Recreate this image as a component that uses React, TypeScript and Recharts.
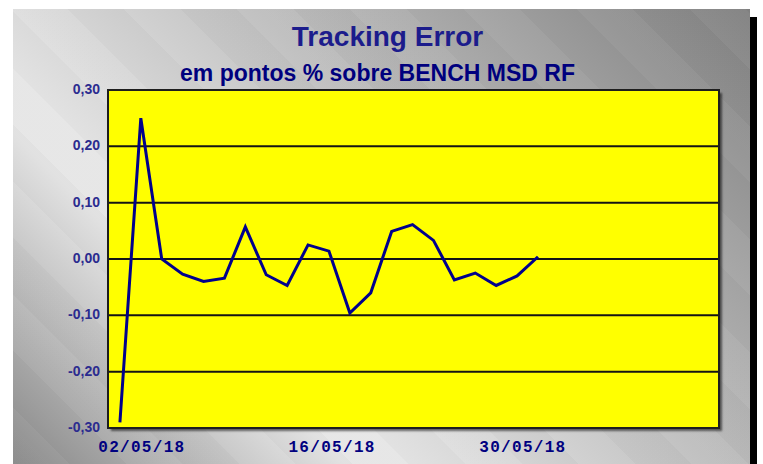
import { LineChart, Line, XAxis, YAxis, CartesianGrid, ReferenceArea } from "recharts";

// trading days of May 2018 and the tracking error (pontos %) for each one
const dates = [
  "02/05/18", "03/05/18", "04/05/18", "07/05/18", "08/05/18", "09/05/18", "10/05/18",
  "11/05/18", "14/05/18", "15/05/18", "16/05/18", "17/05/18", "18/05/18", "21/05/18",
  "22/05/18", "23/05/18", "24/05/18", "25/05/18", "28/05/18", "29/05/18", "30/05/18",
];
const trackingError = [
  -0.29, 0.25, 0.0, -0.027, -0.04, -0.034, 0.057,
  -0.028, -0.047, 0.025, 0.014, -0.096, -0.06, 0.049,
  0.061, 0.033, -0.037, -0.025, -0.047, -0.03, 0.004,
];

// axis labels as they sit under the plot (in point-index units)
const xTickPositions = [1.05, 10.15, 19.28];
const xTickLabels = ["02/05/18", "16/05/18", "30/05/18"];
const xDomain = [-0.57, 28.66];
const yTicks = [-0.3, -0.2, -0.1, 0, 0.1, 0.2, 0.3];

const data = dates.map((d, i) => ({ x: i, date: d, te: trackingError[i] }));

const fmtY = (v: number) => v.toFixed(2).replace(".", ",");
const fmtX = (v: number) => {
  const i = xTickPositions.indexOf(v);
  return i >= 0 ? xTickLabels[i] : "";
};

export default function App() {
  return (
    <div style={{ position: "absolute", left: 0, top: 0, width: 763, height: 464, background: "#fff", overflow: "hidden" }}>
      {/* grey panel */}
      <div
        style={{
          position: "absolute", left: 13, top: 9, width: 737, height: 455,
          background:
            "repeating-linear-gradient(45deg, rgba(255,255,255,0.025) 0px, rgba(255,255,255,0.025) 40px, rgba(0,0,0,0.02) 40px, rgba(0,0,0,0.02) 80px), linear-gradient(45deg, #8a8a8a 0%, #e6e6e6 28%, #e6e6e6 33%, #828282 100%)",
        }}
      />
      {/* black drop shadow on the right */}
      <div style={{ position: "absolute", left: 750, top: 17, width: 7, height: 447, background: "#000" }} />
      {/* shadow under the plot box */}
      <div style={{ position: "absolute", left: 108, top: 90, width: 611, height: 338, boxShadow: "3px 3px 2px rgba(0,0,0,0.55)" }} />

      <div style={{ position: "absolute", left: 0, top: 21, width: 775, textAlign: "center", fontFamily: "'Liberation Sans', Arial, sans-serif", fontWeight: 700, fontSize: 28, color: "#1c1c8c", lineHeight: "32px" }}>
        Tracking Error
      </div>
      <div style={{ position: "absolute", left: 0, top: 59, width: 755, textAlign: "center", fontFamily: "'Liberation Sans', Arial, sans-serif", fontWeight: 700, fontSize: 23, color: "#00007e", lineHeight: "28px" }}>
        em pontos % sobre BENCH MSD RF
      </div>

      <div style={{ position: "absolute", left: 0, top: 0 }}>
        <LineChart width={763} height={464} data={data} margin={{ top: 90, right: 44, left: 0, bottom: 0 }}>
          <CartesianGrid vertical={false} fill="#ffff00" stroke="#141414" strokeWidth={2} fillOpacity={1} />
          <XAxis
            type="number"
            dataKey="x"
            domain={xDomain}
            allowDataOverflow
            ticks={xTickPositions}
            tickFormatter={fmtX}
            interval={0}
            height={36}
            axisLine={false}
            tickLine={false}
            tickMargin={7}
            tick={{ fill: "#000080", fontFamily: "'Liberation Mono', monospace", fontWeight: 700, fontSize: 16, letterSpacing: 1.3 }}
          />
          <YAxis
            type="number"
            domain={[-0.3, 0.3]}
            ticks={yTicks}
            tickFormatter={fmtY}
            interval={0}
            width={108}
            axisLine={false}
            tickLine={false}
            tick={{ fill: "#2b2b8f", fontFamily: "'Liberation Sans', Arial, sans-serif", fontWeight: 700, fontSize: 14, dy: -1 }}
          />
          <ReferenceArea x1={xDomain[0]} x2={xDomain[1]} y1={-0.3} y2={0.3} fill="none" stroke="#1e1e1e" strokeWidth={2} ifOverflow="visible" />
          <Line type="linear" dataKey="te" stroke="#00008c" strokeWidth={3} dot={false} isAnimationActive={false} />
        </LineChart>
      </div>
    </div>
  );
}
